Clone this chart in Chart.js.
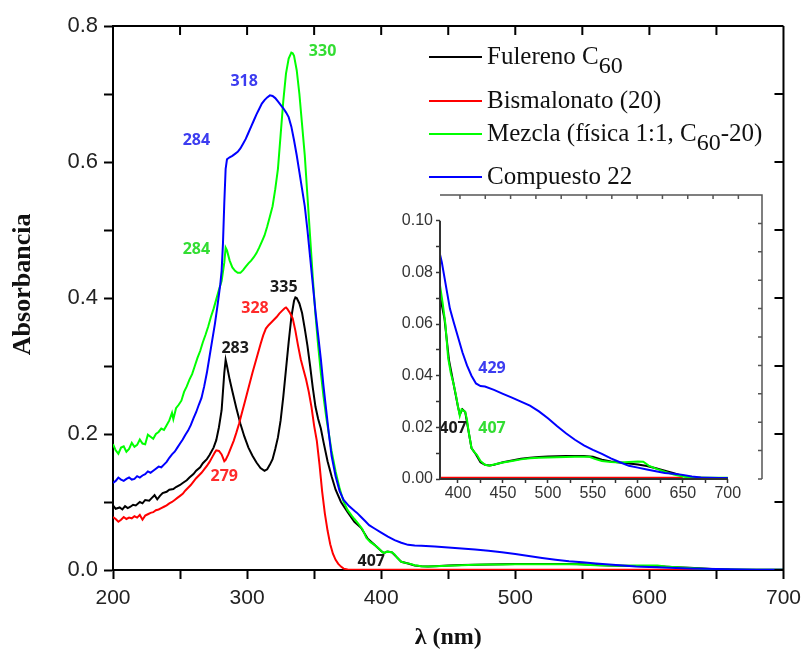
<!DOCTYPE html>
<html>
<head>
<meta charset="utf-8">
<script src="https://cdn.jsdelivr.net/npm/chart.js@4.4.1/dist/chart.umd.min.js"></script>
<style>
html,body{margin:0;padding:0;background:#ffffff;}
#wrap{position:relative;width:808px;height:652px;overflow:hidden;}
#main{position:absolute;left:0;top:0;}
#inset{position:absolute;left:380px;top:180px;}
</style>
</head>
<body>
<div id="wrap">
<canvas id="main" width="808" height="652"></canvas>
<canvas id="inset" width="400" height="330"></canvas>
</div>
<script>
// ---------------- DATA ----------------
// [wavelength nm, absorbance]
const fulerenoC60 = [
 [200,0.095],[202,0.090],[205,0.092],[207,0.089],[209,0.094],[211,0.091],[213,0.093],[215,0.096],[217,0.095],
 [220,0.100],[222,0.098],[224,0.103],[227,0.102],[229,0.106],[231,0.110],[233,0.104],[235,0.109],[237,0.113],
 [240,0.115],[242,0.118],[245,0.119],[247,0.122],[250,0.125],[252,0.128],[255,0.132],[257,0.136],[260,0.141],
 [262,0.146],[265,0.151],[267,0.157],[270,0.163],[272,0.169],[275,0.180],[277,0.191],[279,0.210],[281,0.235],
 [283,0.290],[284,0.309],[285,0.300],[287,0.280],[289,0.263],[292,0.238],[295,0.215],[298,0.196],[301,0.180],
 [304,0.168],[307,0.158],[310,0.150],[313,0.146],[315,0.148],[317,0.155],[319,0.163],[321,0.178],[323,0.195],
 [325,0.220],[327,0.255],[329,0.295],[331,0.335],[333,0.372],[335,0.396],[336,0.401],[337,0.400],[339,0.392],
 [341,0.378],[343,0.355],[345,0.330],[347,0.300],[349,0.268],[351,0.240],[353,0.222],[355,0.208],[357,0.188],
 [360,0.160],[363,0.138],[366,0.118],[370,0.100],[375,0.085],[380,0.071],[385,0.062],[390,0.046],[395,0.037],
 [400,0.028],[402,0.025],[405,0.027],[408,0.026],[411,0.020],[415,0.012],[420,0.0095],[425,0.0065],[430,0.0055],
 [435,0.0052],[440,0.0055],[450,0.0065],[460,0.0072],[470,0.0078],[480,0.0082],[490,0.0085],[500,0.0087],
 [510,0.0088],[520,0.0089],[530,0.0089],[540,0.0089],[550,0.0086],[560,0.0075],[570,0.0068],[580,0.0064],
 [590,0.0060],[600,0.0056],[610,0.0050],[620,0.0042],[630,0.0032],[640,0.0022],[650,0.0012],[660,0.0006],
 [680,0.0004],[700,0.0004]
];
const bismalonato20 = [
 [200,0.078],[202,0.075],[204,0.071],[206,0.074],[208,0.078],[210,0.075],[212,0.077],[214,0.076],[216,0.079],
 [218,0.077],[220,0.081],[222,0.074],[224,0.080],[226,0.082],[228,0.084],[230,0.085],[232,0.088],[234,0.089],
 [236,0.091],[238,0.093],[240,0.095],[242,0.098],[244,0.100],[246,0.103],[248,0.106],[250,0.109],[252,0.112],
 [254,0.117],[256,0.121],[258,0.125],[260,0.130],[262,0.135],[264,0.139],[266,0.143],[268,0.148],[270,0.153],
 [272,0.159],[274,0.166],[276,0.173],[277,0.176],[279,0.175],[281,0.170],[283,0.160],[284,0.162],[286,0.170],
 [288,0.180],[290,0.190],[292,0.202],[294,0.215],[296,0.230],[298,0.245],[300,0.260],[302,0.275],[304,0.290],
 [306,0.304],[308,0.318],[310,0.332],[312,0.345],[314,0.355],[316,0.360],[318,0.364],[320,0.368],[322,0.372],
 [324,0.377],[326,0.381],[328,0.385],[329,0.386],[330,0.384],[332,0.378],[334,0.370],[336,0.352],[338,0.330],
 [340,0.310],[342,0.295],[344,0.280],[346,0.262],[348,0.240],[350,0.212],[352,0.190],[354,0.155],[356,0.115],
 [358,0.083],[360,0.058],[362,0.038],[364,0.024],[366,0.015],[368,0.009],[370,0.005],[372,0.002],[375,0.0008],
 [380,0.0005],[420,0.0005],[500,0.0005],[580,0.0005],[650,0.0005]
];
const mezcla = [
 [200,0.185],[202,0.176],[204,0.171],[206,0.180],[208,0.182],[210,0.174],[212,0.178],[214,0.187],[216,0.181],
 [218,0.184],[220,0.192],[222,0.186],[224,0.185],[226,0.199],[228,0.196],[230,0.193],[232,0.200],[234,0.203],
 [236,0.208],[238,0.206],[240,0.213],[242,0.220],[244,0.231],[245,0.222],[247,0.238],[249,0.243],[251,0.249],
 [253,0.262],[255,0.270],[257,0.280],[259,0.288],[261,0.300],[263,0.312],[265,0.322],[267,0.335],[269,0.346],
 [271,0.358],[273,0.372],[275,0.384],[277,0.398],[279,0.412],[281,0.425],[283,0.452],[284,0.474],[285,0.470],
 [287,0.455],[289,0.445],[291,0.440],[293,0.437],[295,0.437],[297,0.441],[299,0.446],[301,0.451],[303,0.455],
 [305,0.460],[307,0.466],[309,0.474],[311,0.483],[313,0.492],[315,0.505],[317,0.520],[319,0.535],[321,0.560],
 [323,0.590],[325,0.640],[327,0.690],[329,0.730],[331,0.752],[333,0.761],[334,0.760],[335,0.756],[337,0.735],
 [339,0.700],[341,0.655],[343,0.610],[345,0.550],[347,0.490],[349,0.430],[351,0.375],[353,0.330],[355,0.290],
 [357,0.255],[359,0.225],[361,0.200],[363,0.175],[366,0.145],[369,0.120],[372,0.100],[375,0.088],[378,0.080],
 [380,0.075],[383,0.068],[386,0.060],[389,0.047],[392,0.041],[395,0.037],[398,0.032],[400,0.028],[402,0.0245],
 [404,0.027],[406,0.0265],[408,0.026],[410,0.023],[412,0.018],[415,0.012],[418,0.0105],[421,0.0094],[425,0.007],
 [430,0.0055],[435,0.0051],[440,0.0056],[450,0.0064],[460,0.0070],[470,0.0076],[480,0.0080],[490,0.0082],
 [500,0.0083],[510,0.0084],[520,0.0085],[530,0.0086],[540,0.0086],[546,0.0086],[552,0.0078],[560,0.0070],
 [570,0.0066],[580,0.0064],[590,0.0066],[600,0.0068],[606,0.0067],[612,0.0052],[620,0.0040],[630,0.0028],
 [640,0.0017],[650,0.0010],[660,0.0006],[680,0.0005],[700,0.0005]
];
const compuesto22 = [
 [200,0.128],[202,0.131],[204,0.136],[206,0.133],[208,0.131],[210,0.134],[212,0.136],[214,0.133],[216,0.134],
 [218,0.138],[220,0.136],[222,0.139],[224,0.141],[226,0.145],[228,0.143],[230,0.146],[232,0.149],[234,0.152],
 [236,0.151],[238,0.155],[240,0.159],[242,0.165],[244,0.170],[246,0.174],[248,0.180],[250,0.186],[252,0.192],
 [254,0.199],[256,0.205],[258,0.213],[260,0.223],[262,0.232],[264,0.243],[266,0.253],[268,0.270],[270,0.290],
 [272,0.314],[274,0.338],[276,0.362],[278,0.390],[280,0.420],[281,0.440],[282,0.480],[283,0.540],[284,0.590],
 [285,0.604],[287,0.607],[289,0.609],[291,0.612],[293,0.615],[295,0.620],[297,0.627],[299,0.634],[301,0.643],
 [303,0.652],[305,0.661],[307,0.670],[309,0.678],[311,0.686],[313,0.691],[315,0.695],[317,0.698],[319,0.697],
 [321,0.694],[323,0.689],[325,0.684],[327,0.679],[329,0.673],[331,0.666],[333,0.652],[335,0.632],[337,0.610],
 [339,0.585],[341,0.560],[343,0.535],[345,0.500],[347,0.460],[349,0.420],[351,0.380],[353,0.345],[355,0.310],
 [357,0.270],[359,0.235],[361,0.200],[363,0.168],[366,0.138],[369,0.116],[372,0.103],[376,0.094],[380,0.087],
 [382,0.084],[385,0.078],[388,0.072],[391,0.066],[395,0.061],[400,0.055],[405,0.049],[410,0.044],[415,0.040],
 [420,0.037],[425,0.036],[430,0.0358],[440,0.0345],[450,0.0330],[460,0.0315],[470,0.0300],[480,0.0284],
 [490,0.0262],[500,0.0235],[510,0.0205],[520,0.0177],[530,0.0152],[540,0.0130],[550,0.0113],[560,0.0097],
 [570,0.0080],[580,0.0065],[590,0.0051],[600,0.0044],[610,0.0037],[620,0.0030],[630,0.0023],[640,0.0020],
 [650,0.0016],[660,0.0010],[670,0.0006],[680,0.0005],[690,0.0004],[700,0.0004]
];

const seriesData   = [fulerenoC60, bismalonato20, mezcla, compuesto22];
const seriesColors = ['#000000', '#ff0000', '#00ff00', '#0000ff'];
// legend labels: [text, isSubscript]
const seriesLabels = [
  [['Fulereno C', 0], ['60', 1]],
  [['Bismalonato (20)', 0]],
  [['Mezcla (física 1:1, C', 0], ['60', 1], ['-20)', 0]],
  [['Compuesto 22', 0]]
];

// tick values
const mainXTicks  = [200, 250, 300, 350, 400, 450, 500, 550, 600, 650, 700];
const mainYTicks  = [0, 0.1, 0.2, 0.3, 0.4, 0.5, 0.6, 0.7, 0.8];
const insetXTicks = [400, 425, 450, 475, 500, 525, 550, 575, 600, 625, 650, 675, 700];
const insetYTicks = [0, 0.01, 0.02, 0.03, 0.04, 0.05, 0.06, 0.07, 0.08, 0.09, 0.10];

// peak annotations (text, wavelength, absorbance, series index)
const mainPeakText   = ['330', '318', '284', '284', '335', '328', '283', '279', '407'];
const mainPeakX      = [356.3, 297.8, 262.2, 262.2, 327.4, 305.9, 291.1, 283.0, 392.6];
const mainPeakY      = [0.762, 0.718, 0.631, 0.471, 0.415, 0.384, 0.326, 0.137, 0.012];
const mainPeakSeries = [2, 3, 3, 2, 0, 1, 0, 1, 0];
const insetPeakText   = ['429', '407', '407'];
const insetPeakX      = [437.8, 394.5, 437.8];
const insetPeakY      = [0.0429, 0.0196, 0.0196];
const insetPeakSeries = [3, 0, 2];
const peakLabelColors = ['#1a1a1a', '#ff2a2a', '#33dd33', '#3c3cf0'];

// ---------------- CHART ----------------
function makeDatasets(minX) {
  return seriesData.map((s, i) => ({
    label: seriesLabels[i].map(p => p[0]).join(''),
    data: s.filter(p => p[0] >= minX).map(p => ({x: p[0], y: p[1]})),
    borderColor: seriesColors[i],
    backgroundColor: seriesColors[i],
    borderWidth: 2,
    pointRadius: 0,
    tension: 0,
    fill: false,
    order: 4 - i
  }));
}

const mainFramePlugin = {
  id: 'mainFrame',
  afterDraw(chart) {
    const {ctx, chartArea: a, scales} = chart;
    ctx.save();
    ctx.strokeStyle = '#000';
    ctx.lineWidth = 2;
    ctx.beginPath();
    ctx.moveTo(a.left - 1, a.top); ctx.lineTo(a.right, a.top);
    ctx.moveTo(a.right, a.top); ctx.lineTo(a.right, a.bottom + 1);
    scales.x.ticks.forEach(t => {
      const px = scales.x.getPixelForValue(t.value);
      ctx.moveTo(px, a.top); ctx.lineTo(px, a.top + 9);
    });
    scales.y.ticks.forEach(t => {
      const py = scales.y.getPixelForValue(t.value);
      ctx.moveTo(a.right, py); ctx.lineTo(a.right - 9, py);
    });
    ctx.stroke();
    // y title
    ctx.translate(23, scales.y.getPixelForValue(0.42));
    ctx.rotate(-Math.PI / 2);
    ctx.font = 'bold 26px "Liberation Serif"';
    ctx.fillStyle = '#111';
    ctx.textAlign = 'center';
    ctx.textBaseline = 'middle';
    ctx.fillText('Absorbancia', 0, 0);
    ctx.restore();
  }
};

function peakPlugin(id, texts, xs, ys, ser) {
  return {
    id,
    afterDatasetsDraw(chart) {
      const {ctx, scales} = chart;
      ctx.save();
      ctx.font = 'bold 16px "Open Sans"';
      ctx.textAlign = 'center';
      ctx.textBaseline = 'middle';
      texts.forEach((t, i) => {
        ctx.fillStyle = peakLabelColors[ser[i]];
        ctx.fillText(t, scales.x.getPixelForValue(xs[i]), scales.y.getPixelForValue(ys[i]));
      });
      ctx.restore();
    }
  };
}

const legendPlugin = {
  id: 'customLegend',
  afterDraw(chart) {
    const {ctx, chartArea: a} = chart;
    const rows = [31, 75, 108, 151];
    ctx.save();
    ctx.textBaseline = 'middle';
    ctx.textAlign = 'left';
    seriesLabels.forEach((parts, i) => {
      const y = a.top + rows[i];
      ctx.strokeStyle = seriesColors[i];
      ctx.lineWidth = 2;
      ctx.beginPath();
      ctx.moveTo(a.left + 316, y); ctx.lineTo(a.left + 369, y);
      ctx.stroke();
      let x = a.left + 374;
      ctx.fillStyle = '#111';
      parts.forEach(([txt, sub]) => {
        ctx.font = sub ? '24px "Liberation Serif"' : '25px "Liberation Serif"';
        ctx.fillText(txt, x, y + (sub ? 10 : 0));
        x += ctx.measureText(txt).width;
      });
    });
    ctx.restore();
  }
};

new Chart(document.getElementById('main'), {
  type: 'line',
  data: { datasets: makeDatasets(200) },
  options: {
    responsive: false, animation: false, devicePixelRatio: 1,
    layout: { padding: { top: 26, right: 20, left: 0, bottom: 0 } },
    plugins: { legend: { display: false }, tooltip: { enabled: false } },
    scales: {
      x: {
        type: 'linear', min: 200, max: 700,
        afterBuildTicks: s => { s.ticks = mainXTicks.map(v => ({ value: v })); },
        afterFit: s => { s.height = 82; },
        ticks: {
          callback: v => (v % 100 === 0 ? String(v) : ''),
          font: { family: 'Liberation Sans', size: 21 }, color: '#222',
          padding: 7, maxRotation: 0, autoSkip: false
        },
        grid: { drawOnChartArea: false, drawTicks: true, tickLength: 9, tickColor: '#000', tickWidth: 2 },
        border: { display: true, color: '#000', width: 2 },
        title: { display: true, text: 'λ (nm)', color: '#111',
          font: { family: 'Liberation Serif', size: 24, weight: 'bold' }, padding: { top: 0, bottom: 0 } }
      },
      y: {
        type: 'linear', min: 0, max: 0.8,
        afterBuildTicks: s => { s.ticks = mainYTicks.map(v => ({ value: v })); },
        afterFit: s => { s.width = 113; },
        ticks: {
          callback: (v, i) => (i % 2 === 0 ? v.toFixed(1) : ''),
          font: { family: 'Liberation Sans', size: 22 }, color: '#222',
          padding: 6, autoSkip: false
        },
        grid: { drawOnChartArea: false, drawTicks: true, tickLength: 9, tickColor: '#000', tickWidth: 2 },
        border: { display: true, color: '#000', width: 2 }
      }
    }
  },
  plugins: [mainFramePlugin, legendPlugin,
    peakPlugin('mainPeaks', mainPeakText, mainPeakX, mainPeakY, mainPeakSeries)]
});

const insetFramePlugin = {
  id: 'insetFrame',
  afterDraw(chart) {
    const {ctx, chartArea: a, scales} = chart;
    ctx.save();
    // axis lines limited to data range
    ctx.strokeStyle = '#333';
    ctx.lineWidth = 2;
    ctx.beginPath();
    ctx.moveTo(a.left, scales.y.getPixelForValue(0.10));
    ctx.lineTo(a.left, a.bottom + 1);
    ctx.moveTo(a.left - 1, a.bottom);
    ctx.lineTo(scales.x.getPixelForValue(700), a.bottom);
    ctx.stroke();
    // outer frame (top / right) with small inward ticks
    ctx.strokeStyle = '#555';
    ctx.lineWidth = 1.5;
    ctx.beginPath();
    ctx.moveTo(a.left, a.top); ctx.lineTo(a.right, a.top); ctx.lineTo(a.right, a.bottom);
    const w = a.right - a.left, h = a.bottom - a.top;
    for (let i = 0; i < 12; i++) {
      const px = a.left + w * (0.062 + i * 0.0786);
      ctx.moveTo(px, a.top); ctx.lineTo(px, a.top + 4);
    }
    for (let k = 0; k <= 9; k++) {
      const py = a.bottom - h * k / 10;
      ctx.moveTo(a.right, py); ctx.lineTo(a.right - 4, py);
    }
    ctx.stroke();
    ctx.restore();
  }
};

new Chart(document.getElementById('inset'), {
  type: 'line',
  data: { datasets: makeDatasets(380) },
  options: {
    responsive: false, animation: false, devicePixelRatio: 1,
    layout: { padding: { top: 15, right: 18, left: 0, bottom: 0 } },
    plugins: { legend: { display: false }, tooltip: { enabled: false } },
    scales: {
      x: {
        type: 'linear', min: 380, max: 738,
        afterBuildTicks: s => { s.ticks = insetXTicks.map(v => ({ value: v })); },
        afterFit: s => { s.height = 31; },
        ticks: {
          callback: v => (v % 50 === 0 ? String(v) : ''),
          font: { family: 'Liberation Sans', size: 16 }, color: '#333',
          padding: 1, maxRotation: 0, autoSkip: false
        },
        grid: { drawOnChartArea: false, drawTicks: true, tickLength: 4, tickColor: '#333', tickWidth: 1.5 },
        border: { display: false }
      },
      y: {
        type: 'linear', min: 0, max: 0.110,
        afterBuildTicks: s => { s.ticks = insetYTicks.map(v => ({ value: v })); },
        afterFit: s => { s.width = 60; },
        ticks: {
          callback: (v, i) => (i % 2 === 0 ? v.toFixed(2) : ''),
          font: { family: 'Liberation Sans', size: 16 }, color: '#333',
          padding: 3, autoSkip: false
        },
        grid: { drawOnChartArea: false, drawTicks: true, tickLength: 4, tickColor: '#333', tickWidth: 1.5 },
        border: { display: false }
      }
    }
  },
  plugins: [insetFramePlugin,
    peakPlugin('insetPeaks', insetPeakText, insetPeakX, insetPeakY, insetPeakSeries)]
});
</script>
</body>
</html>
